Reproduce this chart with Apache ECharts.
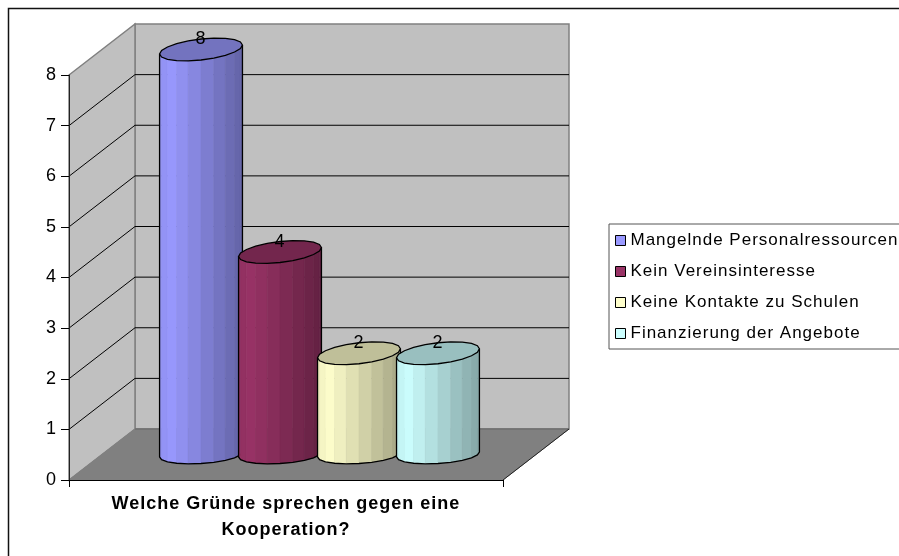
<!DOCTYPE html>
<html><head><meta charset="utf-8">
<style>html,body{margin:0;padding:0;background:#fff;overflow:hidden}#c{width:899px;height:556px}</style>
<script src="https://cdn.jsdelivr.net/npm/echarts@6/dist/echarts.min.js"></script>
</head><body><div id="c"></div>
<script>
const categories = ['Welche Gründe sprechen gegen eine\nKooperation?'];
const seriesNames = ['Mangelnde Personalressourcen','Kein Vereinsinteresse','Keine Kontakte zu Schulen','Finanzierung der Angebote'];
const seriesValues = [8,4,2,2];
const seriesColors = ['#9999FF','#993366','#FFFFCC','#CCFFFF'];
const yTicks = [1,2,3,4,5,6,7,8];
const FONT = '"Liberation Sans", Arial, sans-serif';

const DX = 66, DY = -51;
function shade(hex,f){
  const n=parseInt(hex.slice(1),16);
  const c=[n>>16,(n>>8)&255,n&255].map(v=>Math.round(v*f));
  return 'rgb('+c.join(',')+')';
}
function wallsItem(params,api){
  const s=params.coordSys, L=s.x, R=s.x+s.width, T=s.y, B=s.y+s.height;
  const kids=[];
  const wall={fill:'#C0C0C0',stroke:'#808080',lineWidth:1.5};
  kids.push({type:'polygon',shape:{points:[[L+DX,T+DY],[R+DX,T+DY],[R+DX,B+DY],[L+DX,B+DY]]},style:wall});
  kids.push({type:'polygon',shape:{points:[[L,T],[L+DX,T+DY],[L+DX,B+DY],[L,B]]},style:wall});
  kids.push({type:'polygon',shape:{points:[[L,B],[R,B],[R+DX,B+DY],[L+DX,B+DY]]},style:{fill:'#808080',stroke:'#808080',lineWidth:1}});
  kids.push({type:'line',shape:{x1:L+DX,y1:B+DY,x2:R+DX,y2:B+DY},style:{stroke:'#666',lineWidth:1}});
  kids.push({type:'line',shape:{x1:R,y1:B,x2:R+DX,y2:B+DY},style:{stroke:'#222',lineWidth:1}});
  yTicks.forEach(v=>{
    if(v===8) return;
    const y=api.coord([0,v])[1];
    kids.push({type:'polyline',shape:{points:[[L,y],[L+DX,y+DY],[R+DX,y+DY]]},style:{fill:null,stroke:'#000',lineWidth:1}});
  });
  return {type:'group',children:kids};
}
function cylItem(idx){
  return function(params,api){
    const val=api.value(1);
    const top=api.coord([0,val]), bot=api.coord([0,0]);
    const band=api.size([1,0])[0];
    const pitch=band*0.182, a=band*0.0955, bT=10.5, bB=9;
    const cx=top[0]+DX/2+0.5+(idx-1.5)*pitch;
    const ty=top[1]+DY/2, by=bot[1]+DY/2;
    const kT=4.5, kB=2.5, N=20;
    const color=seriesColors[idx];
    const P=(t,cy,k,b)=>[cx+a*Math.cos(t),cy-b*Math.sin(t)-k*Math.cos(t)];
    const kids=[];
    for(let j=0;j<N/2;j++){
      const t0=Math.PI+j*2*Math.PI/N, t1=t0+2*Math.PI/N;
      const u=(Math.cos((t0+t1)/2)+1)/2;
      const f=u<0.12?0.93+u*0.55:1-(u-0.12)*0.40;
      kids.push({type:'polygon',shape:{points:[P(t0,ty,kT,bT),P(t1,ty,kT,bT),P(t1,by,kB,bB),P(t0,by,kB,bB)]},
        style:{fill:shade(color,f),stroke:shade(color,f),lineWidth:0.6}});
    }
    const topPts=[];
    for(let j=0;j<N;j++) topPts.push(P(j*2*Math.PI/N,ty,kT,bT));
    kids.push({type:'polygon',shape:{points:topPts},style:{fill:shade(color,0.75),stroke:'#000',lineWidth:1.3}});
    const sil=[];
    sil.push(P(Math.PI,ty,kT,bT));
    for(let j=0;j<=N/2;j++) sil.push(P(Math.PI+j*2*Math.PI/N,by,kB,bB));
    sil.push(P(0,ty,kT,bT));
    kids.push({type:'polyline',shape:{points:sil},style:{fill:null,stroke:'#000',lineWidth:1.3}});
    kids.push({type:'text',style:{text:String(val),x:cx,y:ty-10,align:'center',verticalAlign:'middle',fill:'#000',font:'18px '+FONT}});
    return {type:'group',children:kids};
  };
}
const chart=echarts.init(document.getElementById('c'),null,{renderer:'canvas'});
const series=[{type:'custom',name:'walls',z:1,silent:true,data:[[0,0]],renderItem:wallsItem,animation:false}];
seriesNames.forEach((n,i)=>series.push({
  type:'custom',name:n,z:3+i,data:[[0,seriesValues[i]]],encode:{x:0,y:1},renderItem:cylItem(i),
  itemStyle:{color:seriesColors[i]},animation:false
}));
chart.setOption({
  animation:false,
  backgroundColor:'#fff',
  graphic:[{type:'rect',z:-10,shape:{x:8.5,y:8.5,width:1000,height:700},style:{fill:'#fff',stroke:'#111',lineWidth:1.5}}],
  grid:{left:69,width:434,top:75,height:405,containLabel:false},
  xAxis:{type:'category',data:categories,z:10,
    axisLine:{lineStyle:{color:'#000',width:1}},
    axisTick:{show:true,length:7,lineStyle:{color:'#000'},alignWithLabel:false},
    axisLabel:{fontFamily:FONT,fontSize:18,fontWeight:'bold',color:'#000',lineHeight:26,margin:11,interval:0}},
  yAxis:{type:'value',min:0,max:8,interval:1,z:10,
    axisLine:{show:true,lineStyle:{color:'#222',width:1}},
    axisTick:{show:true,length:8,lineStyle:{color:'#000'}},
    splitLine:{show:false},
    axisLabel:{fontFamily:FONT,fontSize:18,color:'#000',margin:12}},
  legend:{show:true,orient:'vertical',left:609,top:224,data:seriesNames,
    icon:'rect',itemWidth:10,itemHeight:10,itemGap:14,
    padding:[8,200,7,6],backgroundColor:'#fff',borderColor:'#555',borderWidth:1,borderRadius:0,
    itemStyle:{borderColor:'#000',borderWidth:1},
    selectedMode:false,
    textStyle:{fontFamily:FONT,fontSize:17,color:'#000'}},
  series
});
document.querySelectorAll('#c canvas').forEach(c=>{c.getContext('2d').letterSpacing='1px';});
chart.getZr().painter.refresh(true);
</script></body></html>
